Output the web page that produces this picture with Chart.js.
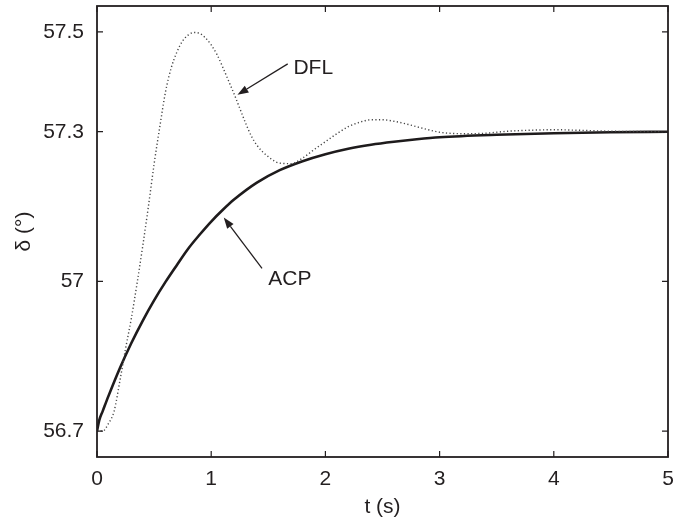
<!DOCTYPE html>
<html>
<head>
<meta charset="utf-8">
<script src="https://cdn.jsdelivr.net/npm/chart.js@4/dist/chart.umd.min.js"></script>
<style>
  body { margin: 0; background: #fff; }
  canvas { display: block; }
</style>
</head>
<body>
<canvas id="grafico" width="686" height="524"></canvas>
<script>
// ACP response (solid)
const tAcp = [0, 0.02, 0.05, 0.1, 0.2, 0.3, 0.4, 0.5, 0.6, 0.7, 0.8, 0.9, 1.0, 1.1, 1.2, 1.4, 1.6, 1.8, 2.0, 2.2, 2.4, 2.6, 2.8, 3.0, 3.5, 4.0, 4.5, 5.0];
const acp = [56.70, 56.722, 56.74, 56.77, 56.826, 56.876, 56.921, 56.962, 56.999, 57.033, 57.066, 57.094, 57.12, 57.143, 57.164, 57.198, 57.223, 57.241, 57.255, 57.266, 57.274, 57.28, 57.285, 57.289, 57.294, 57.297, 57.299, 57.3];

// DFL response (dotted)
const tDfl = [0, 0.05, 0.1, 0.15, 0.2, 0.25, 0.3, 0.35, 0.4, 0.45, 0.5, 0.55, 0.6, 0.65, 0.7, 0.75, 0.8, 0.85, 0.9, 0.95, 1.0, 1.05, 1.1, 1.15, 1.2, 1.25, 1.3, 1.35, 1.4, 1.5, 1.6, 1.7, 1.8, 1.9, 2.0, 2.1, 2.2, 2.3, 2.4, 2.5, 2.6, 2.7, 2.8, 2.9, 3.0, 3.2, 3.4, 3.6, 3.8, 4.0, 4.2, 4.5, 5.0];
const dfl = [56.70, 56.70, 56.715, 56.74, 56.80, 56.865, 56.925, 56.995, 57.07, 57.15, 57.235, 57.31, 57.38, 57.428, 57.46, 57.482, 57.494, 57.499, 57.497, 57.488, 57.474, 57.455, 57.43, 57.403, 57.376, 57.347, 57.318, 57.292, 57.273, 57.25, 57.237, 57.236, 57.247, 57.264, 57.28, 57.296, 57.31, 57.319, 57.324, 57.324, 57.321, 57.316, 57.31, 57.304, 57.299, 57.296, 57.297, 57.301, 57.303, 57.304, 57.303, 57.301, 57.3];

const xTicks = [0, 1, 2, 3, 4, 5];
const yTicks = [56.7, 57, 57.3, 57.5];

// annotations in data coordinates: label, text position, arrow start, arrow tip
const notas = [
  { texto: "DFL", pos: [1.72, 57.428], de: [1.67, 57.436], para: [1.23, 57.374] },
  { texto: "ACP", pos: [1.50, 57.005], de: [1.445, 57.026], para: [1.11, 57.128] }
];

const FONTE = "'Liberation Sans', Arial, sans-serif";
const COR = "#231f20";

function pares(xs, ys) {
  return xs.map((x, i) => ({ x: x, y: ys[i] }));
}

const moldura = {
  id: "moldura",
  afterDraw(chart) {
    const ctx = chart.ctx;
    const a = chart.chartArea;
    const sx = chart.scales.x, sy = chart.scales.y;
    ctx.save();
    ctx.strokeStyle = COR;
    ctx.lineWidth = 1.8;
    ctx.strokeRect(a.left, a.top, a.right - a.left, a.bottom - a.top);
    ctx.lineWidth = 1.2;
    ctx.beginPath();
    xTicks.forEach(v => {
      const px = sx.getPixelForValue(v);
      ctx.moveTo(px, a.bottom); ctx.lineTo(px, a.bottom - 6);
      ctx.moveTo(px, a.top); ctx.lineTo(px, a.top + 6);
    });
    yTicks.forEach(v => {
      const py = sy.getPixelForValue(v);
      ctx.moveTo(a.left, py); ctx.lineTo(a.left + 6, py);
      ctx.moveTo(a.right, py); ctx.lineTo(a.right - 6, py);
    });
    ctx.stroke();

    // arrows and labels
    ctx.fillStyle = COR;
    ctx.font = "21px " + FONTE;
    ctx.textBaseline = "middle";
    notas.forEach(n => {
      const x0 = sx.getPixelForValue(n.de[0]), y0 = sy.getPixelForValue(n.de[1]);
      const x1 = sx.getPixelForValue(n.para[0]), y1 = sy.getPixelForValue(n.para[1]);
      const ang = Math.atan2(y1 - y0, x1 - x0);
      const L = 11, W = 4;
      const bx = x1 - L * Math.cos(ang), by = y1 - L * Math.sin(ang);
      ctx.lineWidth = 1.3;
      ctx.beginPath();
      ctx.moveTo(x0, y0); ctx.lineTo(bx, by);
      ctx.stroke();
      ctx.beginPath();
      ctx.moveTo(x1, y1);
      ctx.lineTo(bx + W * Math.sin(ang), by - W * Math.cos(ang));
      ctx.lineTo(bx - W * Math.sin(ang), by + W * Math.cos(ang));
      ctx.closePath();
      ctx.fill();
      ctx.fillText(n.texto, sx.getPixelForValue(n.pos[0]), sy.getPixelForValue(n.pos[1]));
    });
    ctx.restore();
  }
};

new Chart(document.getElementById("grafico"), {
  type: "line",
  data: {
    datasets: [
      {
        label: "DFL",
        data: pares(tDfl, dfl),
        borderColor: "#444",
        borderWidth: 1.4,
        borderDash: [1.2, 2.4],
        pointRadius: 0,
        cubicInterpolationMode: "monotone",
        fill: false
      },
      {
        label: "ACP",
        data: pares(tAcp, acp),
        borderColor: "#1e1b1c",
        borderWidth: 2.6,
        pointRadius: 0,
        cubicInterpolationMode: "monotone",
        fill: false
      }
    ]
  },
  plugins: [moldura],
  options: {
    responsive: false,
    devicePixelRatio: 1,
    animation: false,
    layout: { padding: { top: 6, right: 18, left: 0, bottom: 0 } },
    plugins: { legend: { display: false }, tooltip: { enabled: false } },
    scales: {
      x: {
        type: "linear",
        min: 0,
        max: 5,
        afterFit(scale) {
          scale.height = 67;
          scale.paddingLeft = 0; scale.paddingRight = 0;
        },
        afterBuildTicks(scale) { scale.ticks = xTicks.map(v => ({ value: v })); },
        grid: { display: false, drawTicks: false },
        border: { display: false },
        ticks: { color: COR, padding: 10, maxRotation: 0, font: { family: FONTE, size: 21 } },
        title: { display: true, text: "t (s)", color: COR, padding: { top: 0, bottom: 4 }, font: { family: FONTE, size: 21 } }
      },
      y: {
        type: "linear",
        min: 56.648,
        max: 57.552,
        afterFit(scale) {
          scale.width = 97;
          scale.paddingTop = 0; scale.paddingBottom = 0;
        },
        afterBuildTicks(scale) { scale.ticks = yTicks.map(v => ({ value: v })); },
        grid: { display: false, drawTicks: false },
        border: { display: false },
        ticks: {
          color: COR, padding: 13, font: { family: FONTE, size: 21 },
          callback: v => String(v)
        },
        title: { display: true, text: "δ (°)", color: COR, padding: { top: 12, bottom: 0 }, font: { family: FONTE, size: 21 } }
      }
    }
  }
});
</script>
</body>
</html>
